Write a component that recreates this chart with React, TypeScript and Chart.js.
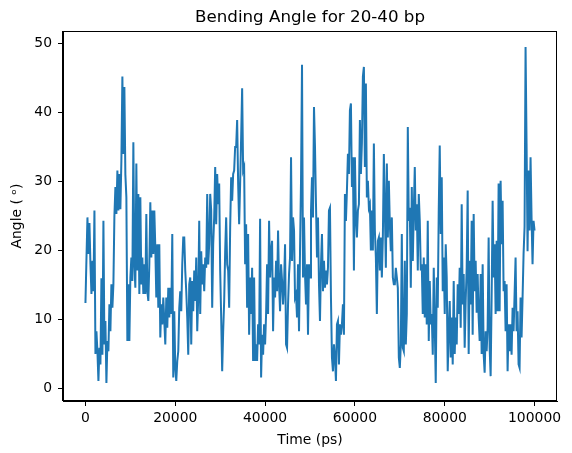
import React, { useEffect, useRef } from "react";
import { Chart, registerables } from "chart.js";

Chart.register(...registerables);

const TITLE = "Bending Angle for 20-40 bp";
const X_LABEL = "Time (ps)";
const Y_LABEL = "Angle ( ᵒ)";
const T_START = 0;
const T_END = 100000;
const X_TICKS = [0, 20000, 40000, 60000, 80000, 100000];
const Y_TICKS = [0, 10, 20, 30, 40, 50];
const X_RANGE = [-5000, 105000];
const Y_RANGE = [-1.8, 51.8];

const ANGLE = [
  12.4, 18.8, 24.8, 19.5, 24.0, 18.0, 13.7, 18.5, 14.1, 25.8,
  5.0, 8.3, 5.4, 1.1, 5.9, 3.5, 16.0, 4.9, 24.3, 6.4,
  9.8, 0.8, 6.9, 5.4, 12.2, 8.3, 15.1, 11.7, 15.1, 25.0,
  29.2, 25.3, 31.6, 25.8, 31.1, 26.0, 33.0, 45.2, 34.0, 43.7,
  31.0, 27.7, 6.9, 15.1, 6.9, 16.1, 19.0, 15.6, 35.7, 18.0,
  14.6, 32.6, 17.1, 28.2, 13.7, 27.7, 15.1, 19.0, 13.7, 18.0,
  13.7, 25.3, 14.1, 12.7, 18.0, 27.0, 19.0, 25.8, 19.5, 25.8,
  20.4, 13.2, 20.9, 11.7, 20.9,
  7.4, 12.2, 9.3, 13.2, 9.8, 6.4, 13.2, 8.8, 14.6, 10.3,
  14.6, 10.8, 22.4, 1.6, 11.2, 3.0, 1.1, 4.0, 5.4, 11.7,
  14.1, 11.2, 18.0, 21.9, 21.9, 17.1, 14.1, 10.3, 4.9, 15.1,
  16.1, 6.4, 15.6, 11.2, 17.1, 12.7, 19.0, 8.3, 13.2, 24.3,
  10.8, 19.9, 15.1, 18.0, 14.1, 19.0, 17.5, 28.2, 18.0, 20.9,
  28.2, 25.8, 11.7, 20.9, 24.8, 32.1, 23.8, 31.1, 26.7, 29.7,
  17.1, 10.3, 2.5, 8.3, 12.7, 19.9, 24.8, 18.0, 17.1, 11.7,
  23.3, 30.6, 27.2, 31.1, 31.6, 35.0, 35.0, 38.9, 29.7, 23.8,
  29.7, 36.4, 43.5, 31.6, 32.1, 18.0, 23.8, 11.7, 22.4, 7.8,
  16.1, 10.8, 17.5, 4.0, 16.1, 4.0, 6.4, 4.0, 9.3, 6.4,
  24.6, 1.6, 7.8, 4.9, 9.3, 6.4, 10.8, 18.0, 10.8, 24.3,
  16.1, 20.0, 21.4, 8.3, 16.1, 13.2, 18.5, 14.1, 22.9, 15.1,
  11.2, 18.0, 15.6, 12.2, 15.1, 20.9, 6.4, 5.9, 12.2, 16.6,
  19.0, 33.5, 18.5, 24.8, 22.9, 13.2, 13.7, 10.3, 18.0, 8.3,
  19.9, 30.1, 46.9, 16.1, 24.8, 16.6, 12.2, 18.0, 7.8, 18.0,
  16.1, 25.8, 30.6, 24.8, 40.8, 35.0, 26.7, 19.0, 24.8, 15.1,
  9.8, 18.0, 22.4, 14.1, 18.5, 14.6, 17.1, 15.1, 17.5, 25.8,
  26.2, 13.2, 4.5, 2.5, 6.4, 4.5, 1.1, 9.3, 9.8, 3.5,
  9.3, 7.8, 9.3, 12.2, 7.8, 28.2, 24.3, 28.7, 34.0, 31.1,
  40.3, 41.3, 29.2, 33.5, 17.1, 33.5, 24.8, 21.9, 25.8, 26.7,
  38.9, 31.1, 35.5, 45.2, 46.6, 32.1, 44.2, 27.7, 30.1, 26.2,
  26.7, 20.0, 25.8, 20.0, 35.5, 22.9, 19.0, 10.8, 21.4, 21.9,
  17.1, 21.9, 16.1, 21.9, 34.0, 25.8, 17.5, 32.6, 21.9, 30.1,
  23.8, 19.9, 24.8, 16.1, 15.1, 15.1, 17.5, 16.1, 14.6, 4.5,
  3.0, 6.4, 22.4, 5.9, 5.4, 18.5, 6.4, 10.8, 37.9, 24.3,
  26.2, 14.6, 29.2, 18.5, 25.8, 32.1, 22.9, 26.7, 17.1, 28.2,
  24.3, 17.1, 18.0, 10.8, 19.0, 10.3, 18.0, 9.3, 24.3, 6.9,
  15.6, 9.3, 10.8, 4.9, 17.5, 9.3, 0.8, 16.1, 11.7, 25.8,
  35.2, 22.4, 30.6, 14.1, 19.0, 10.8, 20.9, 16.1, 2.5, 8.3,
  12.7, 4.5, 10.3, 3.5, 15.6, 5.0, 10.3, 6.4, 15.1, 10.8,
  17.5, 8.8, 26.7, 12.2, 16.6, 5.9, 12.7, 17.5, 28.7, 5.0,
  18.5, 12.2, 24.3, 7.8, 25.3, 14.1, 18.5, 11.0, 16.6, 10.3,
  6.9, 16.6, 5.0, 18.0, 5.0, 2.3, 8.3, 5.4, 8.8, 21.9,
  5.9, 1.8, 13.2, 27.2, 16.1, 20.9, 10.8, 21.4, 11.2, 29.7,
  11.2, 30.1, 20.9, 27.2, 14.1, 15.6, 8.3, 15.1, 2.5, 9.3,
  5.4, 9.3, 4.9, 11.7, 8.3, 13.7, 19.0, 8.3, 11.2, 3.5,
  3.0, 13.2, 7.4, 13.2, 19.5, 23.4, 49.5, 35.5, 19.9, 31.6,
  22.9, 33.5, 24.8, 18.0, 24.3, 22.9,
];

const FONT = "'DejaVu Sans', sans-serif";

const framePlugin = {
  id: "frame",
  afterDraw(chart: any) {
    const { ctx, chartArea } = chart;
    ctx.save();
    ctx.strokeStyle = "#000";
    ctx.lineWidth = 1;
    const l = Math.round(chartArea.left) - 0.5;
    const t = Math.round(chartArea.top) + 0.5;
    const r = Math.round(chartArea.right) - 0.5;
    const b = Math.round(chartArea.bottom) - 0.5;
    ctx.strokeRect(l, t, r - l, b - t);
    ctx.restore();
  },
};

export default function App() {
  const ref = useRef<HTMLCanvasElement | null>(null);

  useEffect(() => {
    document.body.style.margin = "0";
    const canvas = ref.current;
    if (!canvas) return;
    const step = (T_END - T_START) / (ANGLE.length - 1);
    const points = ANGLE.map((v, i) => ({ x: T_START + i * step, y: v }));

    const chart = new Chart(canvas, {
      type: "line",
      data: {
        datasets: [
          {
            data: points,
            borderColor: "#1f77b4",
            borderWidth: 2,
            pointRadius: 0,
            tension: 0,
            fill: false,
          },
        ],
      },
      options: {
        responsive: false,
        animation: false,
        devicePixelRatio: 1,
        layout: { padding: { left: 0, right: 15, top: 0, bottom: 0 } },
        plugins: {
          legend: { display: false },
          tooltip: { enabled: false },
          title: {
            display: true,
            fullSize: false,
            text: TITLE,
            color: "#000",
            font: { family: FONT, size: 16.7, weight: "normal" },
            padding: { top: 8, bottom: 3 },
          },
        },
        scales: {
          x: {
            type: "linear",
            min: X_RANGE[0],
            max: X_RANGE[1],
            afterBuildTicks: (s: any) => {
              s.ticks = X_TICKS.map((v) => ({ value: v }));
            },
            afterFit: (s: any) => {
              s.height = 52;
            },
            grid: {
              display: true,
              drawOnChartArea: false,
              drawTicks: true,
              tickLength: 5,
              color: "#000",
            },
            border: { display: true, color: "#000", width: 1 },
            ticks: {
              autoSkip: false,
              maxRotation: 0,
              padding: 4,
              color: "#000",
              font: { family: FONT, size: 13.9 },
              callback: (v: any) => String(v),
            },
            title: {
              display: true,
              text: X_LABEL,
              color: "#000",
              font: { family: FONT, size: 13.9 },
              padding: { top: 4, bottom: 4 },
            },
          },
          y: {
            type: "linear",
            min: Y_RANGE[0],
            max: Y_RANGE[1],
            afterBuildTicks: (s: any) => {
              s.ticks = Y_TICKS.map((v) => ({ value: v }));
            },
            afterFit: (s: any) => {
              s.width = 63;
            },
            grid: {
              display: true,
              drawOnChartArea: false,
              drawTicks: true,
              tickLength: 5,
              color: "#000",
            },
            border: { display: true, color: "#000", width: 1 },
            ticks: {
              autoSkip: false,
              padding: 6,
              color: "#000",
              font: { family: FONT, size: 13.9 },
              callback: (v: any) => String(v),
            },
            title: {
              display: true,
              text: Y_LABEL,
              color: "#000",
              font: { family: FONT, size: 13.9 },
              padding: { top: 9, bottom: 9 },
            },
          },
        },
      },
      plugins: [framePlugin],
    });
    return () => chart.destroy();
  }, []);

  return (
    <canvas
      ref={ref}
      width={572}
      height={453}
      style={{ display: "block", width: 572, height: 453 }}
    />
  );
}
